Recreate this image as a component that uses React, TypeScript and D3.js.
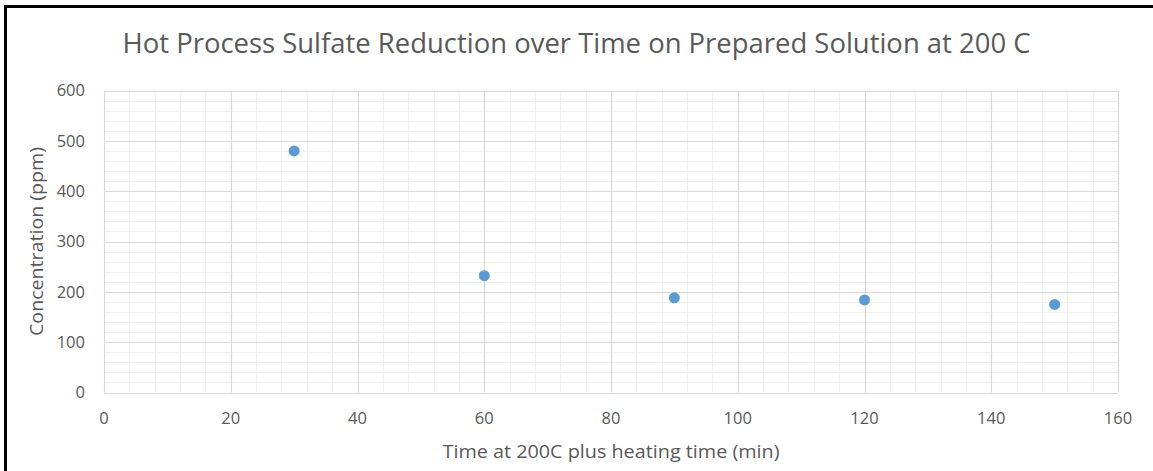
import React, { useEffect, useRef } from "react";
import * as d3 from "d3";

const timeMin: number[] = [30, 60, 90, 120, 150];
const concentration: number[] = [480, 232, 188, 184, 175];
const xTicks: number[] = [0, 20, 40, 60, 80, 100, 120, 140, 160];
const yTicks: number[] = [0, 100, 200, 300, 400, 500, 600];
const titleText = "Hot Process Sulfate Reduction over Time on Prepared Solution at 200 C";
const xTitle = "Time at 200C plus heating time (min)";
const yTitle = "Concentration (ppm)";

const W = 1153;
const H = 471;

export default function App() {
  const ref = useRef<SVGSVGElement | null>(null);

  useEffect(() => {
    const svg = d3.select(ref.current);
    svg.selectAll("*").remove();

    const left = 104, right = 1118, top = 90.5, bottom = 392.5;
    const x = d3.scaleLinear().domain([0, 160]).range([left, right]);
    const y = d3.scaleLinear().domain([0, 600]).range([bottom, top]);
    const textColor = "#595959";
    const font = "'Open Sans', 'Noto Sans', sans-serif";

    svg.append("rect").attr("width", W).attr("height", H).attr("fill", "#ffffff");

    // minor gridlines
    const g = svg.append("g");
    const xMinor = d3.range(0, 160.001, 4).filter((v) => v % 20 !== 0);
    const yMinor = d3.range(0, 600.001, 20).filter((v) => v % 100 !== 0);
    g.selectAll(".xm").data(xMinor).join("line")
      .attr("x1", (d) => Math.round(x(d)) + 0.5).attr("x2", (d) => Math.round(x(d)) + 0.5)
      .attr("y1", top).attr("y2", bottom)
      .attr("stroke", "#f0f0f0").attr("stroke-width", 1.2);
    g.selectAll(".ym").data(yMinor).join("line")
      .attr("y1", (d) => Math.round(y(d)) + 0.5).attr("y2", (d) => Math.round(y(d)) + 0.5)
      .attr("x1", left).attr("x2", right)
      .attr("stroke", "#f0f0f0").attr("stroke-width", 1.2);

    // major gridlines
    g.selectAll(".xM").data(xTicks).join("line")
      .attr("x1", (d) => Math.round(x(d)) + 0.5).attr("x2", (d) => Math.round(x(d)) + 0.5)
      .attr("y1", top).attr("y2", bottom)
      .attr("stroke", "#d9d9d9").attr("stroke-width", 1.2);
    g.selectAll(".yM").data(yTicks).join("line")
      .attr("y1", (d) => Math.round(y(d)) + 0.5).attr("y2", (d) => Math.round(y(d)) + 0.5)
      .attr("x1", left).attr("x2", right)
      .attr("stroke", "#d9d9d9").attr("stroke-width", 1.2);

    // tick labels
    svg.append("g").selectAll("text").data(yTicks).join("text")
      .attr("x", 85).attr("y", (d) => y(d)).attr("dy", "0.36em")
      .attr("text-anchor", "end").attr("fill", textColor)
      .style("font-family", font).style("font-size", "16.5px")
      .text((d) => String(d));
    svg.append("g").selectAll("text").data(xTicks).join("text")
      .attr("x", (d) => x(d)).attr("y", 418).attr("dy", "0.36em")
      .attr("text-anchor", "middle").attr("fill", textColor)
      .style("font-family", font).style("font-size", "16.5px")
      .text((d) => String(d));

    // points
    svg.append("g").selectAll("circle").data(timeMin.map((t, i) => [t, concentration[i]]))
      .join("circle")
      .attr("cx", (d) => x(d[0])).attr("cy", (d) => y(d[1])).attr("r", 5.5)
      .attr("fill", "#5B9BD5");

    // titles
    svg.append("text")
      .attr("x", 576.5).attr("y", 53).attr("text-anchor", "middle")
      .attr("fill", textColor).style("font-family", font).style("font-size", "27.5px")
      .attr("textLength", 908).attr("lengthAdjust", "spacingAndGlyphs")
      .text(titleText);
    svg.append("text")
      .attr("x", (left + right) / 2).attr("y", 458).attr("text-anchor", "middle")
      .attr("fill", textColor).style("font-family", font).style("font-size", "17.5px")
      .attr("textLength", 337).attr("lengthAdjust", "spacingAndGlyphs")
      .text(xTitle);
    svg.append("text")
      .attr("transform", `translate(43, ${(top + bottom) / 2}) rotate(-90)`)
      .attr("text-anchor", "middle")
      .attr("fill", textColor).style("font-family", font).style("font-size", "17.5px")
      .attr("textLength", 189).attr("lengthAdjust", "spacingAndGlyphs")
      .text(yTitle);

    // outer black border (left & top)
    svg.append("line").attr("x1", 5.5).attr("x2", 5.5).attr("y1", 5).attr("y2", H)
      .attr("stroke", "#000").attr("stroke-width", 3);
    svg.append("line").attr("x1", 4).attr("x2", W).attr("y1", 6.5).attr("y2", 6.5)
      .attr("stroke", "#000").attr("stroke-width", 3);
  }, []);

  return (
    <svg
      ref={ref}
      width={W}
      height={H}
      style={{ position: "absolute", left: 0, top: 0, display: "block" }}
    />
  );
}
